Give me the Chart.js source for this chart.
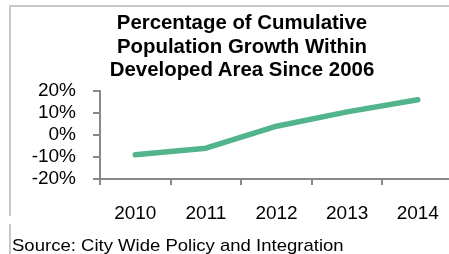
<!DOCTYPE html>
<html>
<head>
<meta charset="utf-8">
<script src="https://cdn.jsdelivr.net/npm/chart.js@4"></script>
<style>
  body { margin: 0; background: #fff; }
  .wrap { position: relative; width: 449px; height: 254px; overflow: hidden; font-family: 'Liberation Sans', Arial, sans-serif; }
  .frame { position: absolute; left: 9px; top: 5px; width: 440px; height: 209px; border-top: 2px solid #c8c8c8; border-left: 2px solid #c8c8c8; }
  .srcbar { position: absolute; left: 9px; top: 224px; height: 30px; border-left: 2px solid #c8c8c8; }
  .title { position: absolute; left: 42px; width: 400px; top: 11px; text-align: center; font-weight: bold; font-size: 20.4px; line-height: 23.5px; color: #000; }
  .source { position: absolute; left: 12px; top: 237px; font-size: 17px; line-height: 17px; color: #000; white-space: nowrap; transform: scaleX(1.09); transform-origin: left; }
  canvas { position: absolute; left: 0; top: 0; display: block; }
</style>
</head>
<body>
<div class="wrap">
  <canvas id="growthChart" width="456" height="254"></canvas>
  <div class="frame"></div>
  <div class="srcbar"></div>
  <div class="title">Percentage of Cumulative<br>Population Growth Within<br>Developed Area Since 2006</div>
  <div class="source">Source: City Wide Policy and Integration</div>
</div>
<script>
// data
const years = ["2010", "2011", "2012", "2013", "2014"];
const growth = [-9, -6, 4, 10.5, 16]; // cumulative growth, %
const yMin = -20;
const yMax = 20;
const yStep = 10;

const axisGrey = "#898989";
const tickFont = { family: "'Liberation Sans', Arial", size: 19 };

const ctx = document.getElementById("growthChart");
new Chart(ctx, {
    type: "line",
    data: {
        labels: years,
        datasets: [{
            data: growth,
            borderColor: "#52b48c",
            borderWidth: 5.5,
            borderCapStyle: "round",
            borderJoinStyle: "round",
            pointRadius: 0,
            tension: 0
        }]
    },
    options: {
        responsive: false,
        animation: false,
        devicePixelRatio: 1,
        layout: { padding: { top: 91, right: 1, bottom: 0, left: 0 } },
        plugins: {
            legend: { display: false },
            title: { display: false },
            tooltip: { enabled: false }
        },
        scales: {
            x: {
                offset: true,
                grid: { offset: true, drawOnChartArea: false, color: axisGrey, lineWidth: 2, tickLength: 6 },
                border: { color: axisGrey, width: 2 },
                ticks: {
                    color: "#000",
                    padding: 17,
                    maxRotation: 0,
                    autoSkip: false,
                    font: tickFont
                },
                afterFit: (scale) => { scale.height = 75; }
            },
            y: {
                min: yMin,
                max: yMax,
                grid: { drawOnChartArea: false, color: axisGrey, lineWidth: 2, tickLength: 7 },
                border: { color: axisGrey, width: 2 },
                ticks: {
                    stepSize: yStep,
                    autoSkip: false,
                    color: "#000",
                    padding: 17,
                    font: tickFont,
                    callback: (v) => v + "%"
                },
                afterFit: (scale) => { scale.width = 100; }
            }
        }
    }
});
</script>
</body>
</html>
